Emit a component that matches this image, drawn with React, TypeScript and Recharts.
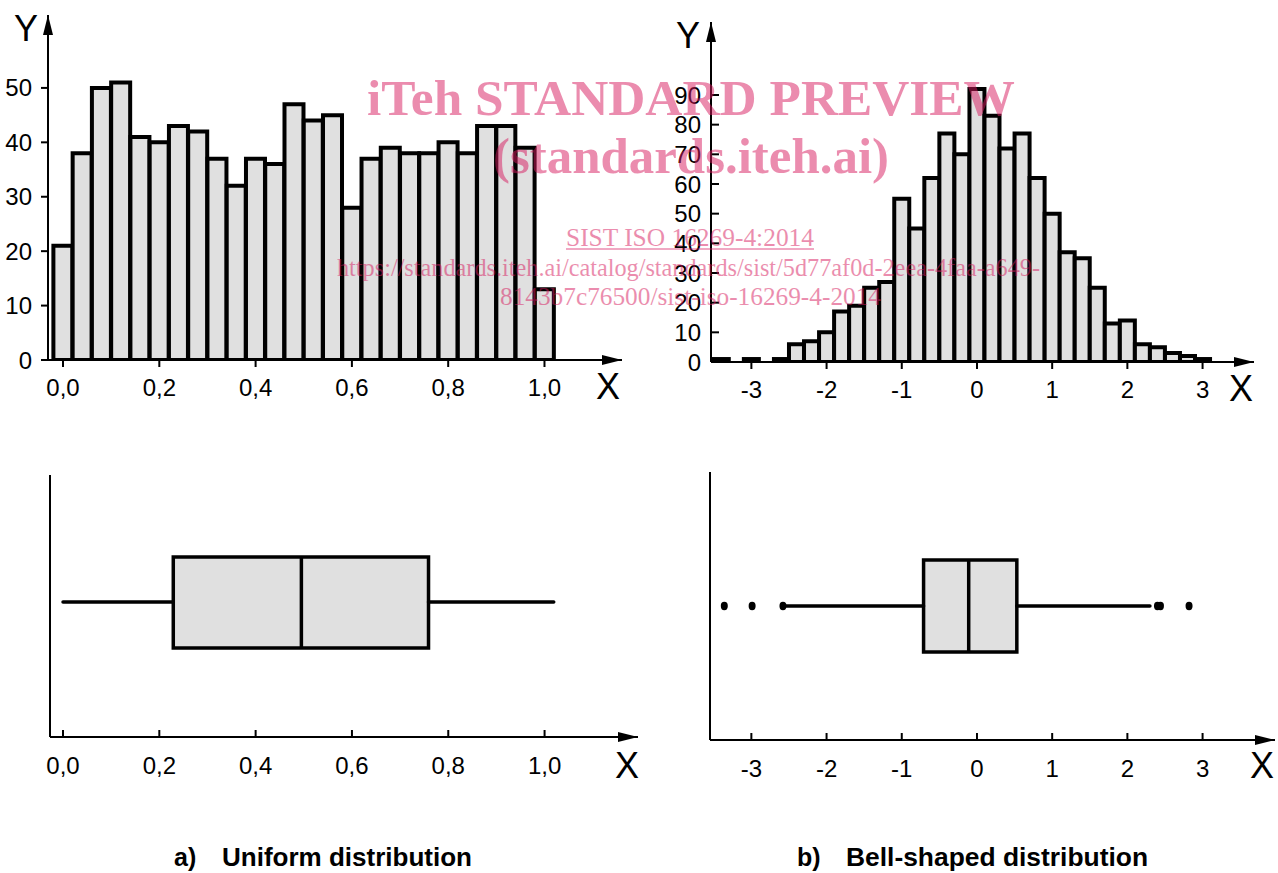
import React from 'react';
import {
  ComposedChart,
  Bar,
  XAxis,
  YAxis,
  Line,
  Scatter,
  ReferenceArea,
  ReferenceLine,
} from 'recharts';

const SANS = '"Liberation Sans", Arial, Helvetica, sans-serif';
const SERIF = '"Liberation Serif", "Times New Roman", serif';
const INK = '#000';
const BAR_FILL = '#e0e0e0';
const MARK = '#d81b60';

// a) uniform sample, bins of width 0.04
const uniformBinWidth = 0.04;
const uniformBins = [
  0.0, 0.04, 0.08, 0.12, 0.16, 0.2, 0.24, 0.28, 0.32, 0.36, 0.4, 0.44, 0.48,
  0.52, 0.56, 0.6, 0.64, 0.68, 0.72, 0.76, 0.8, 0.84, 0.88, 0.92, 0.96, 1.0,
];
const uniformCounts = [
  21, 38, 50, 51, 41, 40, 43, 42, 37, 32, 37, 36, 47, 44, 45, 28, 37, 39, 38, 38,
  40, 38, 43, 43, 39, 13,
];
const uniformXTicks = [0, 0.2, 0.4, 0.6, 0.8, 1.0];
const uniformYTicks = [0, 10, 20, 30, 40, 50];
// min, q1, median, q3, max
const uniformBox = { min: 0.0, q1: 0.229, median: 0.495, q3: 0.759, max: 1.019 };
const uniformOutliers: number[] = [];

// b) bell-shaped sample, bins of width 0.2
const bellBinWidth = 0.2;
const bellBins = [
  -3.4, -3.2, -3.0, -2.8, -2.6, -2.4, -2.2, -2.0, -1.8, -1.6, -1.4, -1.2, -1.0,
  -0.8, -0.6, -0.4, -0.2, 0.0, 0.2, 0.4, 0.6, 0.8, 1.0, 1.2, 1.4, 1.6, 1.8, 2.0,
  2.2, 2.4, 2.6, 2.8, 3.0,
];
const bellCounts = [
  1, 0, 1, 0, 1, 6, 7, 10, 17, 19, 25, 27, 55, 45, 62, 77, 70, 92, 83, 72, 77, 62,
  50, 37, 35, 25, 13, 14, 6, 5, 3, 2, 1,
];
const bellXTicks = [-3, -2, -1, 0, 1, 2, 3];
const bellYTicks = [0, 10, 20, 30, 40, 50, 60, 70, 80, 90];
const bellBox = { min: -2.58, q1: -0.71, median: -0.11, q3: 0.53, max: 2.3 };
const bellOutliers = [-3.36, -2.99, -2.58, 2.4, 2.44, 2.82];

const commaFmt = (v: number) => v.toFixed(1).replace('.', ',');
const intFmt = (v: number) => String(Math.round(v));

const tickStyle = { fill: INK, fontSize: 24, fontFamily: SANS };
const axisStroke = { stroke: INK, strokeWidth: 2 };

type Margin = { top: number; right: number; bottom: number; left: number };

function Histogram(props: {
  bins: number[];
  counts: number[];
  binWidth: number;
  xDomain: [number, number];
  xTicks: number[];
  yDomain: [number, number];
  yTicks: number[];
  width: number;
  height: number;
  margin: Margin;
  yAxisWidth: number;
  xAxisHeight: number;
  yTickSize: number;
  yTickMargin: number;
  formatX: (v: number) => string;
}) {
  const { bins, counts, binWidth, xDomain, yDomain, width, margin, yAxisWidth } = props;
  const data = bins.map((b, i) => ({ bin: b, count: counts[i] }));
  // pad the band axis so the bins line up with the value axis
  const plotW = width - margin.left - margin.right - yAxisWidth;
  const span = xDomain[1] - xDomain[0];
  const lo = bins[0] - binWidth / 2;
  const hi = bins[bins.length - 1] + binWidth / 2;
  const padLeft = ((lo - xDomain[0]) / span) * plotW;
  const padRight = ((xDomain[1] - hi) / span) * plotW;

  return (
    <ComposedChart
      width={width}
      height={props.height}
      data={data}
      margin={margin}
      barCategoryGap={0}
      barGap={0}
    >
      <XAxis
        xAxisId="bins"
        dataKey="bin"
        type="category"
        hide
        height={0}
        padding={{ left: padLeft, right: padRight }}
      />
      <XAxis
        xAxisId="value"
        dataKey="bin"
        type="number"
        domain={xDomain}
        ticks={props.xTicks}
        allowDataOverflow
        interval={0}
        height={props.xAxisHeight}
        tickFormatter={props.formatX}
        tickSize={7}
        tickMargin={12}
        tick={tickStyle}
        tickLine={axisStroke}
        axisLine={{ ...axisStroke, markerEnd: 'url(#axisArrow)' }}
      />
      <YAxis
        type="number"
        domain={yDomain}
        ticks={props.yTicks}
        allowDataOverflow
        interval={0}
        width={yAxisWidth}
        tickFormatter={intFmt}
        tickSize={props.yTickSize}
        tickMargin={props.yTickMargin}
        tick={tickStyle}
        tickLine={axisStroke}
        axisLine={axisStroke}
      />
      <Bar
        xAxisId="bins"
        dataKey="count"
        fill={BAR_FILL}
        stroke={INK}
        strokeWidth={4}
        isAnimationActive={false}
      />
      {/* y axis drawn again bottom-to-top so it can carry the arrow head */}
      <ReferenceLine
        xAxisId="value"
        segment={[
          { x: xDomain[0], y: yDomain[0] },
          { x: xDomain[0], y: yDomain[1] },
        ]}
        ifOverflow="visible"
        stroke={INK}
        strokeWidth={2}
        markerEnd="url(#axisArrow)"
      />
    </ComposedChart>
  );
}

function BoxPlot(props: {
  stats: { min: number; q1: number; median: number; q3: number; max: number };
  outliers: number[];
  xDomain: [number, number];
  xTicks: number[];
  boxLow: number;
  boxHigh: number;
  mid: number;
  width: number;
  height: number;
  margin: Margin;
  yAxisWidth: number;
  xAxisHeight: number;
  formatX: (v: number) => string;
}) {
  const { stats, boxLow, boxHigh, mid } = props;
  const lowerWhisker = [
    { x: stats.min, y: mid },
    { x: stats.q1, y: mid },
  ];
  const upperWhisker = [
    { x: stats.q3, y: mid },
    { x: stats.max, y: mid },
  ];
  const points = props.outliers.map((x) => ({ x, y: mid }));

  return (
    <ComposedChart width={props.width} height={props.height} margin={props.margin}>
      <XAxis
        dataKey="x"
        type="number"
        domain={props.xDomain}
        ticks={props.xTicks}
        allowDataOverflow
        interval={0}
        height={props.xAxisHeight}
        tickFormatter={props.formatX}
        tickSize={-7}
        tickMargin={27}
        tick={tickStyle}
        tickLine={axisStroke}
        axisLine={{ ...axisStroke, markerEnd: 'url(#axisArrow)' }}
      />
      <YAxis
        dataKey="y"
        type="number"
        domain={[0, 1]}
        allowDataOverflow
        width={props.yAxisWidth}
        tick={false}
        tickLine={false}
        axisLine={axisStroke}
      />
      <Line
        data={lowerWhisker}
        dataKey="y"
        stroke={INK}
        strokeWidth={3.5}
        strokeLinecap="round"
        dot={false}
        isAnimationActive={false}
      />
      <Line
        data={upperWhisker}
        dataKey="y"
        stroke={INK}
        strokeWidth={3.5}
        strokeLinecap="round"
        dot={false}
        isAnimationActive={false}
      />
      <ReferenceArea
        x1={stats.q1}
        x2={stats.q3}
        y1={boxLow}
        y2={boxHigh}
        fill={BAR_FILL}
        fillOpacity={1}
        stroke={INK}
        strokeWidth={3.5}
      />
      <ReferenceLine
        segment={[
          { x: stats.median, y: boxLow },
          { x: stats.median, y: boxHigh },
        ]}
        stroke={INK}
        strokeWidth={3.5}
      />
      <Scatter
        data={points}
        isAnimationActive={false}
        shape={(p: any) => <ellipse cx={p.cx} cy={p.cy} rx={3.5} ry={4.2} fill={INK} />}
      />
    </ComposedChart>
  );
}

const place = (left: number, top: number): React.CSSProperties => ({
  position: 'absolute',
  left,
  top,
});

export default function App() {
  return (
    <div
      style={{
        position: 'absolute',
        left: 0,
        top: 0,
        width: 1278,
        height: 873,
        background: '#fff',
        overflow: 'hidden',
      }}
    >
      <svg width={0} height={0} style={{ position: 'absolute' }}>
        <defs>
          <marker
            id="axisArrow"
            viewBox="0 0 20 10"
            refX={20}
            refY={5}
            markerWidth={20}
            markerHeight={10}
            markerUnits="userSpaceOnUse"
            orient="auto"
          >
            <path d="M0,0 L20,5 L0,10 z" fill={INK} />
          </marker>
        </defs>
      </svg>

      <div style={place(0, 0)}>
        <Histogram
          bins={uniformBins}
          counts={uniformCounts}
          binWidth={uniformBinWidth}
          xDomain={[-0.0312, 1.161]}
          xTicks={uniformXTicks}
          yDomain={[0, 63.4]}
          yTicks={uniformYTicks}
          width={640}
          height={410}
          margin={{ top: 15, right: 18, bottom: 10, left: 0 }}
          yAxisWidth={48}
          xAxisHeight={40}
          yTickSize={7}
          yTickMargin={9}
          formatX={commaFmt}
        />
      </div>

      <div style={place(640, 0)}>
        <Histogram
          bins={bellBins}
          counts={bellCounts}
          binWidth={bellBinWidth}
          xDomain={[-3.537, 3.684]}
          xTicks={bellXTicks}
          yDomain={[0, 114.6]}
          yTicks={bellYTicks}
          width={638}
          height={410}
          margin={{ top: 22, right: 24, bottom: 10, left: 0 }}
          yAxisWidth={71}
          xAxisHeight={38}
          yTickSize={-8}
          yTickMargin={18}
          formatX={intFmt}
        />
      </div>

      <div style={place(0, 460)}>
        <BoxPlot
          stats={uniformBox}
          outliers={uniformOutliers}
          xDomain={[-0.027, 1.194]}
          xTicks={uniformXTicks}
          boxLow={0.34}
          boxHigh={0.687}
          mid={0.515}
          width={660}
          height={340}
          margin={{ top: 15, right: 22, bottom: 10, left: 0 }}
          yAxisWidth={50}
          xAxisHeight={53}
          formatX={commaFmt}
        />
      </div>

      <div style={place(640, 460)}>
        <BoxPlot
          stats={bellBox}
          outliers={bellOutliers}
          xDomain={[-3.55, 3.963]}
          xTicks={bellXTicks}
          boxLow={0.328}
          boxHigh={0.672}
          mid={0.5}
          width={638}
          height={340}
          margin={{ top: 12, right: 3, bottom: 10, left: 0 }}
          yAxisWidth={70}
          xAxisHeight={50}
          formatX={intFmt}
        />
      </div>

      <svg
        width={1278}
        height={873}
        style={{ position: 'absolute', left: 0, top: 0, pointerEvents: 'none' }}
      >
        <g fontFamily={SANS} fontSize={36} fill={INK} textAnchor="middle">
          <text x={26} y={41}>Y</text>
          <text x={608} y={399}>X</text>
          <text x={688} y={48}>Y</text>
          <text x={1241} y={401}>X</text>
          <text x={627} y={778}>X</text>
          <text x={1262} y={778}>X</text>
        </g>

        <g fontFamily={SANS} fontWeight="bold" fontSize={25} fill={INK}>
          <text x={174} y={866}>a)</text>
          <text x={222} y={866} textLength={250} lengthAdjust="spacingAndGlyphs">
            Uniform distribution
          </text>
          <text x={797} y={866}>b)</text>
          <text x={846} y={866} textLength={302} lengthAdjust="spacingAndGlyphs">
            Bell-shaped distribution
          </text>
        </g>

        <g fontFamily={SERIF} fill={MARK} opacity={0.5}>
          <text x={367} y={115} fontSize={50} fontWeight="bold" textLength={648} lengthAdjust="spacingAndGlyphs">
            iTeh STANDARD PREVIEW
          </text>
          <text x={493} y={173} fontSize={50} fontWeight="bold" textLength={396} lengthAdjust="spacingAndGlyphs">
            (standards.iteh.ai)
          </text>
          <text x={566} y={246} fontSize={25} textLength={248} lengthAdjust="spacingAndGlyphs">
            SIST ISO 16269-4:2014
          </text>
          <line x1={566} y1={249} x2={814} y2={249} stroke={MARK} strokeWidth={1.5} />
          <text x={337} y={276} fontSize={25} textLength={703} lengthAdjust="spacingAndGlyphs">
            https://standards.iteh.ai/catalog/standards/sist/5d77af0d-2eea-4faa-a649-
          </text>
          <text x={500} y={305} fontSize={25} textLength={381} lengthAdjust="spacingAndGlyphs">
            8143b7c76500/sist-iso-16269-4-2014
          </text>
        </g>
      </svg>
    </div>
  );
}
